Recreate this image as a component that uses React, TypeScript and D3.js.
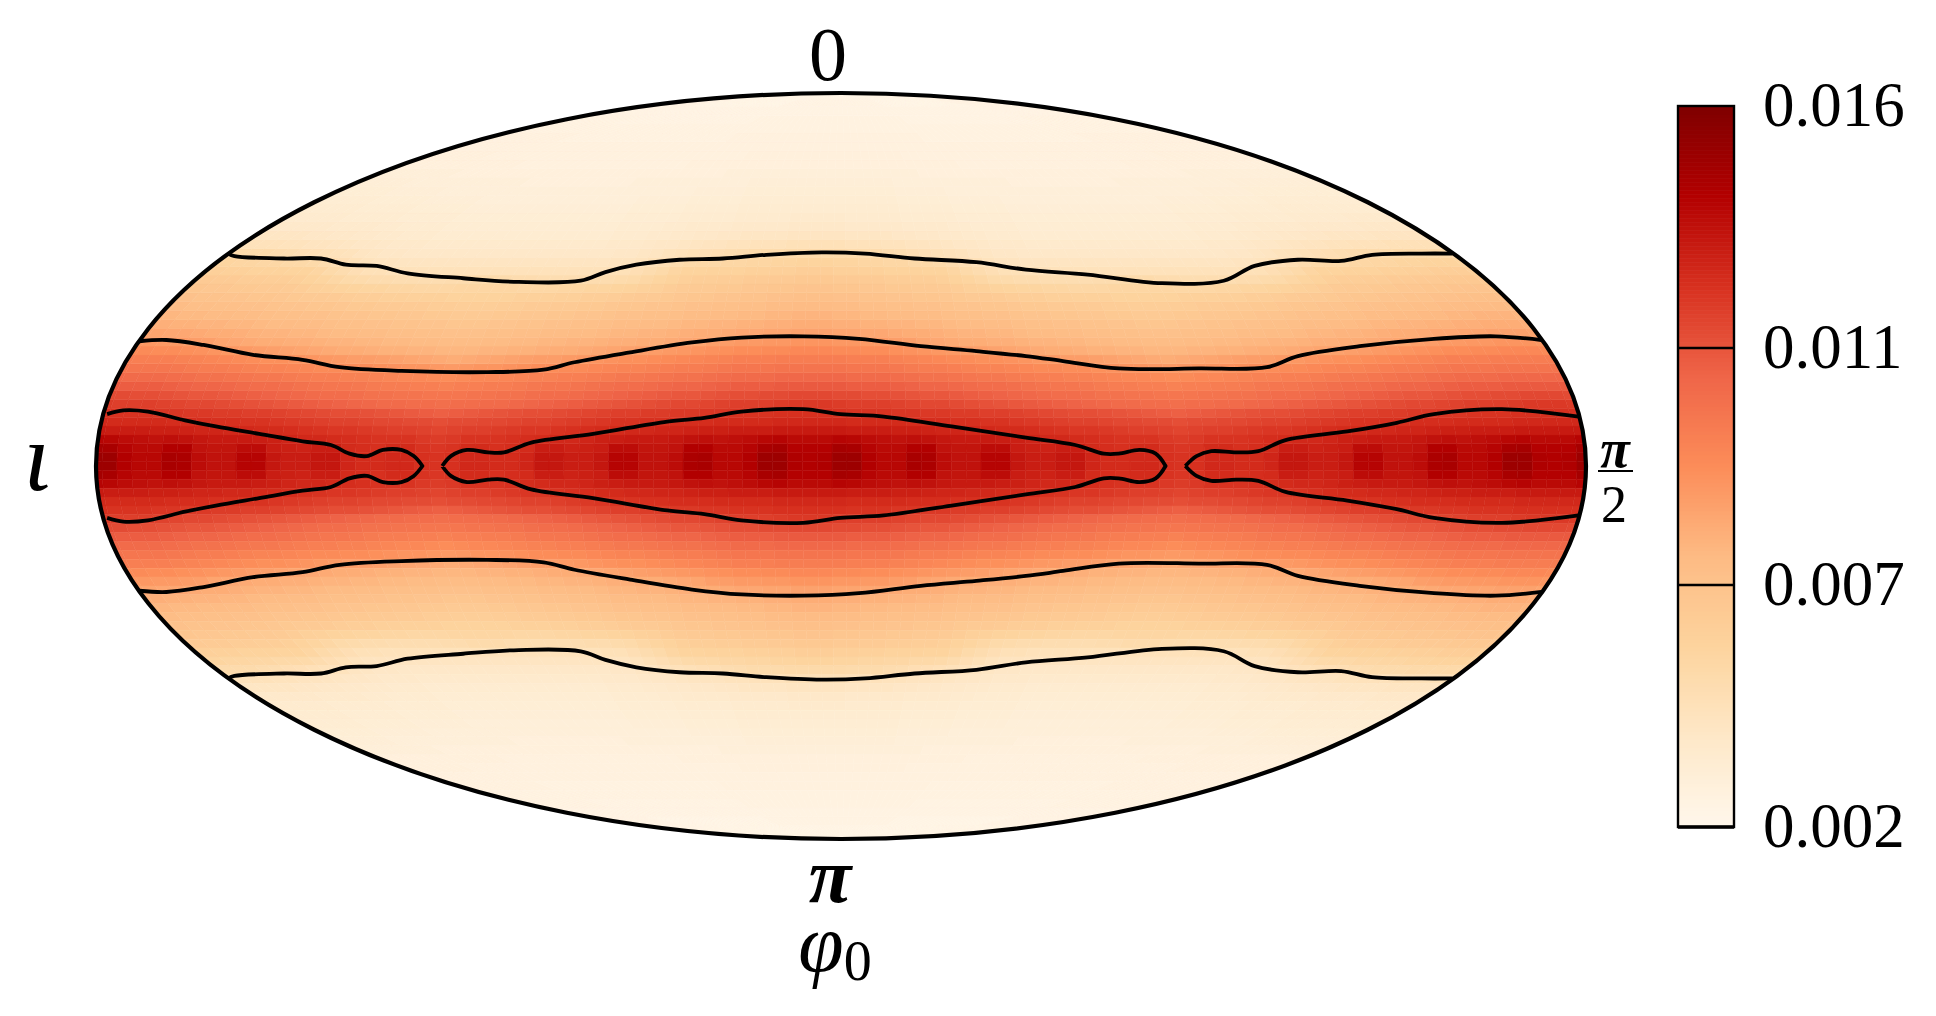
import React from 'react';
import * as d3 from 'd3';

const WIDTH = 1936;
const HEIGHT = 1016;

// colour bar range and the ticks printed next to it
const vMin = 0.002;
const vMax = 0.016;
const barTicks = ['0.016', '0.011', '0.007', '0.002'];
const barTickValues = [0.016, 0.0113, 0.0067, 0.002];
const barRuleValues = [0.0113, 0.0067];

const COLS = 100;
const HALF_ROWS = 42;
// the map repeats every 50 columns and mirrors around column 47
const PERIOD = 50;
const MIRROR_COL = 47;
// the bins do not sit exactly on the map centre
const COL_SHIFT = 0.4;
const ROW_SHIFT = 0.5;

// values in units of 0.0001. one line per row going away from the equator, 26 columns from the mirror column
const cellValues: number[][] = [
  [143,144,150,150,143,140,140,146,145,138,136,136,141,141,134,132,132,134,134,129,127,127,128,128,125,124],
  [142,142,147,146,141,139,139,143,143,136,135,135,138,138,132,131,130,132,132,127,126,125,127,127,124,123],
  [139,139,141,140,138,137,136,137,136,134,133,133,133,132,131,129,128,128,127,126,125,124,124,124,122,121],
  [133,133,133,132,132,132,131,131,130,129,129,128,128,127,127,126,125,124,123,123,122,121,120,120,119,118],
  [128,128,128,127,127,127,127,126,126,126,125,125,124,124,123,122,121,120,119,119,118,117,117,116,116,115],
  [125,125,125,124,124,124,123,123,122,122,121,121,120,120,119,118,117,116,115,115,114,113,112,111,110,109],
  [122,122,121,120,120,120,119,118,117,117,116,115,114,113,112,111,110,109,108,107,106,105,105,104,104,103],
  [117,117,116,116,115,115,114,113,112,112,111,110,109,108,107,106,105,104,104,103,102,102,101,101,100,100],
  [111,111,111,110,110,110,109,108,107,107,106,105,104,104,103,102,101,100,100,99,98,97,97,96,96,95],
  [106,106,106,105,105,105,104,103,102,102,101,100,99,99,98,97,96,96,95,95,94,93,92,92,91,90],
  [101,101,101,100,100,100,99,98,97,97,96,95,94,94,93,92,91,91,90,90,89,88,87,87,86,85],
  [97,97,97,96,96,96,95,94,93,92,91,90,89,89,88,87,86,85,84,84,83,82,81,80,79,78],
  [92,92,91,91,90,90,89,88,87,86,85,84,83,82,81,80,79,78,78,77,76,76,75,75,74,74],
  [87,87,86,86,85,85,84,83,81,80,79,78,78,77,77,76,75,75,74,74,73,73,72,72,71,71],
  [82,82,81,81,80,80,79,78,78,77,76,75,75,74,74,73,72,72,71,71,70,70,69,69,68,68],
  [78,78,77,77,76,76,75,75,74,74,73,72,72,71,71,70,69,69,68,68,67,67,66,66,65,65],
  [75,75,74,74,73,73,72,72,71,71,70,69,69,68,68,67,66,66,65,65,64,64,63,63,62,62],
  [72,72,71,71,70,70,69,69,68,68,67,66,66,65,65,64,63,63,62,62,61,61,60,60,59,59],
  [69,69,68,68,67,67,66,66,65,65,64,63,62,62,61,60,59,59,58,58,57,57,57,56,56,56],
  [66,66,65,65,64,64,63,63,62,62,61,60,58,57,56,55,54,54,53,53,52,52,52,53,53,53],
  [63,63,62,62,61,61,60,60,59,59,58,56,54,52,50,49,48,48,47,47,47,47,48,48,49,49],
  [59,59,58,58,57,57,56,56,56,55,55,53,50,48,46,44,44,43,43,43,43,43,43,43,43,43],
  [55,55,54,54,53,53,52,52,51,51,50,48,46,44,42,41,41,40,40,40,40,40,40,40,40,40],
  [50,50,50,49,49,49,48,47,46,45,44,43,42,40,39,38,38,37,37,37,37,37,37,37,37,37],
  [44,44,44,43,43,43,42,42,41,41,40,39,38,38,37,36,36,36,35,35,35,35,35,35,35,35],
  [40,40,40,39,39,39,39,38,38,37,37,36,36,35,35,34,34,34,33,33,33,33,33,33,33,33],
  [37,37,37,36,36,36,36,36,35,35,35,35,34,34,33,33,33,33,32,32,32,32,32,32,32,32],
  [35,35,35,34,34,34,34,34,33,33,33,33,33,32,32,32,32,32,31,31,31,31,31,31,31,31],
  [33,33,33,33,33,33,33,33,32,32,32,32,32,31,31,31,31,31,30,30,30,30,30,30,30,30],
  [32,32,32,32,32,32,32,32,31,31,31,31,31,30,30,30,30,30,29,29,29,29,29,29,29,29],
  [31,31,31,31,31,31,31,31,30,30,30,30,30,29,29,29,29,29,29,29,29,29,29,29,29,29],
  [30,30,30,30,30,30,30,30,29,29,29,29,29,29,29,29,29,29,29,29,28,28,28,28,28,28],
  [29,29,29,29,29,29,29,29,29,29,29,28,28,28,28,28,28,28,28,28,28,28,28,28,28,28],
  [28,28,28,28,28,28,28,28,28,28,28,28,28,28,28,28,27,27,27,27,27,27,27,27,27,27],
  [28,28,28,28,28,28,28,28,28,28,27,27,27,27,27,27,27,27,27,27,27,27,27,27,27,27],
  [27,27,27,27,27,27,27,27,27,27,27,27,27,27,27,27,27,27,27,27,27,27,27,27,27,27],
  [27,27,27,27,27,27,27,27,27,27,27,27,27,27,26,26,26,26,26,26,26,26,26,26,26,26],
  [26,26,26,26,26,26,26,26,26,26,26,26,26,26,26,26,26,26,26,26,26,26,26,26,26,26],
  [26,26,26,26,26,26,26,26,26,26,26,26,26,26,25,25,25,25,25,25,25,25,25,25,25,25],
  [25,25,25,25,25,25,25,25,25,25,25,25,25,25,25,25,25,25,25,25,25,25,25,25,25,25],
  [25,25,25,25,25,25,25,25,25,25,25,25,25,25,24,24,24,24,24,24,24,24,24,24,24,24],
  [24,24,24,24,24,24,24,24,24,24,24,24,24,24,24,24,24,24,24,24,24,24,24,24,24,24],
];

// contours: across position and height above the equator, map units, mirrored below
const outerX = [185,190,230,260,280,305,330,375,420,470,490,515,550,585,620,665,700,740,790,830,880,940,990,1015,1050,1085,1110,1150,1175];
const outerH = [172,170,168,168,163,162,156,152,149,150,157,163,167,168,171,173,172,168,165,159,155,148,150,162,167,166,171,172,172];
const middleX = [113,135,165,205,245,275,325,395,440,465,510,560,600,650,695,745,790,830,860,905,970,1025,1050,1100,1160,1210,1247];
const middleH = [101,102,98,90,86,80,77,76,78,84,92,100,104,105,103,97,93,89,85,79,79,80,89,97,103,105,102];
const innerLeftX = [87,100,120,150,175,210,245,268,283,297,310,325,335,342];
const innerLeftH = [42,45,44,37,32,26,20,17,10,8,13,13,8,0];
const innerMidX = [358,365,378,395,408,430,480,540,570,600,650,680,715,770,830,870,893,905,922,935,943];
const innerMidH = [0,8,13,11,11,19,26,36,39,44,46,42,40,32,23,17,10,10,13,10,0];
const innerRightX = [959,968,980,1000,1018,1040,1090,1130,1160,1215,1277];
const innerRightH = [0,8,12,11,12,21,28,35,42,46,40];

const mapBox = { left: 96, right: 1586, top: 93, bottom: 839 };
const barBox = { left: 1678, right: 1734, top: 106, bottom: 827 };

const xMap = d3.scaleLinear().domain([78, 1283]).range([mapBox.left, mapBox.right]);
const yMap = d3.scaleLinear().domain([-302, 302]).range([mapBox.bottom, mapBox.top]);
const vCell = d3.scaleLinear().domain([-HALF_ROWS, HALF_ROWS]).range([mapBox.bottom, mapBox.top]);
const uCell = d3.scaleLinear().domain([0, COLS]).range([mapBox.left, mapBox.right]);
const yBar = d3.scaleLinear().domain([vMin, vMax]).range([barBox.bottom, barBox.top]);

const colour = d3
  .scaleLinear<string>()
  .domain(d3.quantize(d3.interpolateNumber(vMin, vMax), 9))
  .range(['#fff7ec', '#fee8c8', '#fdd49e', '#fdbb84', '#fc8d59', '#ef6548', '#d7301f', '#b30000', '#7f0000'])
  .clamp(true);

const cx = (mapBox.left + mapBox.right) / 2;
const cy = (mapBox.top + mapBox.bottom) / 2;
const rx = (mapBox.right - mapBox.left) / 2;
const ry = (mapBox.bottom - mapBox.top) / 2;

// parallels are straight, meridians bend with the outline
const project = (col: number, row: number): [number, number] => {
  const r = row + ROW_SHIFT;
  const s = Math.sqrt(Math.max(0, 1 - (r / HALF_ROWS) ** 2));
  return [cx + (uCell(col + COL_SHIFT) - cx) * s, vCell(r)];
};

const cellValue = (col: number, rowIdx: number) => {
  const d = (((col - MIRROR_COL) % PERIOD) + PERIOD) % PERIOD;
  const phase = d > PERIOD / 2 ? PERIOD - d : d;
  return cellValues[Math.min(rowIdx, HALF_ROWS - 1)][phase] * 0.0001;
};

const cells: { d: string; fill: string }[] = [];
for (let rowIdx = 0; rowIdx <= HALF_ROWS; rowIdx++) {
  for (let col = -1; col <= COLS; col++) {
    const fill = colour(cellValue(col, rowIdx));
    [1, -1].forEach(sign => {
      const r0 = sign * rowIdx;
      const r1 = sign * (rowIdx + 1);
      const pts = [project(col, r0), project(col + 1, r0), project(col + 1, r1), project(col, r1)];
      cells.push({ d: 'M' + pts.join('L') + 'Z', fill });
    });
  }
}

const lineGen = d3
  .line<[number, number]>()
  .x(d => xMap(d[0]))
  .y(d => yMap(d[1]))
  .curve(d3.curveCatmullRom.alpha(0.5));

const openPair = (xs: number[], hs: number[]) => [
  lineGen(xs.map((x, i) => [x, hs[i]] as [number, number])) as string,
  lineGen(xs.map((x, i) => [x, -hs[i]] as [number, number])) as string,
];

const loop = (xs: number[], hs: number[]) => {
  const upper = xs.map((x, i) => [x, hs[i]] as [number, number]);
  const lower = xs.map((x, i) => [x, -hs[i]] as [number, number]).reverse();
  return lineGen(upper.concat(lower)) as string;
};

const contourPaths = [
  ...openPair(outerX, outerH),
  ...openPair(middleX, middleH),
  loop(innerLeftX, innerLeftH),
  loop(innerMidX, innerMidH),
  ...openPair(innerRightX, innerRightH),
];

const barSteps = d3.range(0, 180).map(i => vMin + ((vMax - vMin) * i) / 180);
const barStep = (vMax - vMin) / 180;

const serif = '"Liberation Serif", serif';

export default function App() {
  return (
    <svg
      width={WIDTH}
      height={HEIGHT}
      viewBox={`0 0 ${WIDTH} ${HEIGHT}`}
      style={{ position: 'absolute', left: 0, top: 0, display: 'block', background: '#fff' }}
    >
      <defs>
        <clipPath id="map-clip">
          <ellipse cx={cx} cy={cy} rx={rx} ry={ry} />
        </clipPath>
      </defs>
      <g clipPath="url(#map-clip)">
        {cells.map((c, i) => (
          <path key={i} d={c.d} fill={c.fill} stroke={c.fill} strokeWidth={0.5} />
        ))}
        {contourPaths.map((d, i) => (
          <path key={i} d={d} fill="none" stroke="#000" strokeWidth={3.8} strokeLinejoin="round" />
        ))}
      </g>
      <ellipse cx={cx} cy={cy} rx={rx} ry={ry} fill="none" stroke="#000" strokeWidth={4.2} />

      <g fontFamily={serif} fill="#000" textAnchor="middle">
        <text x={828} y={80} fontSize={76}>0</text>
        <text>
          <tspan x={830} y={902} fontSize={78} fontStyle="italic" fontWeight="bold">π</tspan>
          <tspan x={835} y={971} fontSize={82} fontStyle="italic">φ</tspan>
          <tspan fontSize={56} dy={9}>0</tspan>
        </text>
        <text x={37} y={490} fontSize={98} fontStyle="italic">ι</text>
        <text x={1615} y={467} fontSize={54} fontStyle="italic" fontWeight="bold">π</text>
        <text x={1614} y={522} fontSize={52}>2</text>
      </g>
      <line x1={1598} x2={1633} y1={471} y2={471} stroke="#000" strokeWidth={2} />

      {barSteps.map((v, i) => (
        <rect
          key={i}
          x={barBox.left}
          width={barBox.right - barBox.left}
          y={yBar(v + barStep)}
          height={yBar(v) - yBar(v + barStep) + 0.6}
          fill={colour(v + barStep / 2)}
        />
      ))}
      <rect
        x={barBox.left}
        y={barBox.top}
        width={barBox.right - barBox.left}
        height={barBox.bottom - barBox.top}
        fill="none"
        stroke="#000"
        strokeWidth={2.4}
      />
      <line x1={barBox.left} x2={barBox.right} y1={barBox.bottom} y2={barBox.bottom} stroke="#000" strokeWidth={3.4} />
      {barRuleValues.map(v => (
        <line key={v} x1={barBox.left} x2={barBox.right} y1={yBar(v)} y2={yBar(v)} stroke="#000" strokeWidth={2.4} />
      ))}
      {barTicks.map((t, i) => (
        <text key={t} x={1763} y={yBar(barTickValues[i]) + 20} fontFamily={serif} fontSize={63} fill="#000">
          {t}
        </text>
      ))}
    </svg>
  );
}
